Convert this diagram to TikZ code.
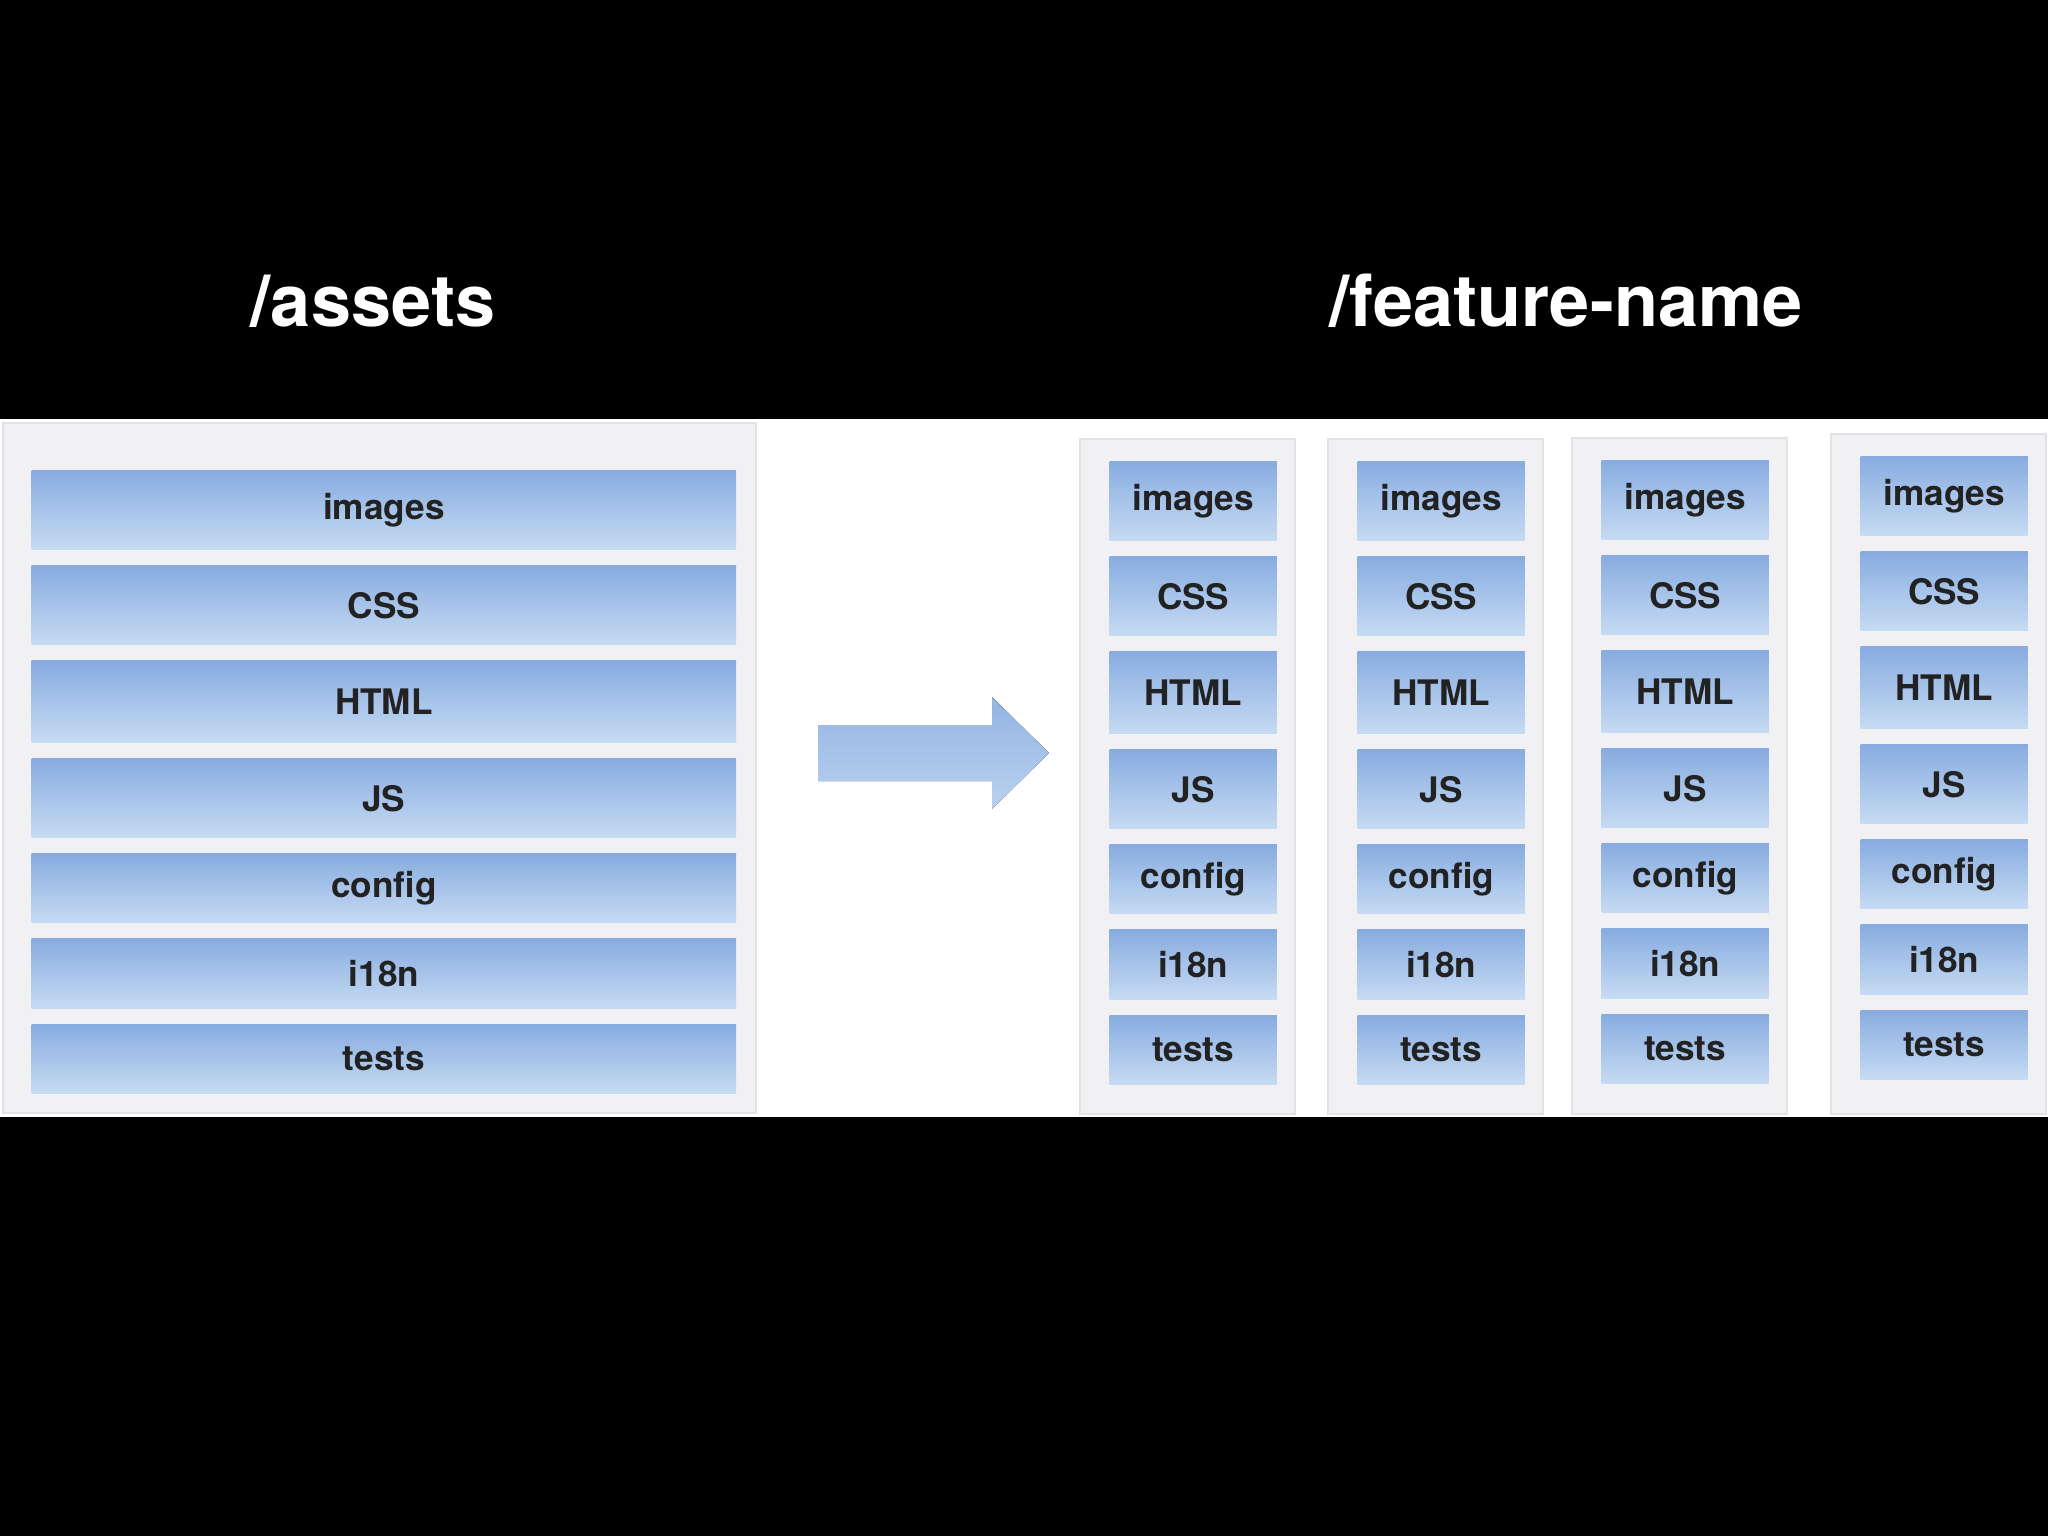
\documentclass[tikz,border=0pt]{standalone}
\usepackage{fontspec}
\setmainfont{TeX Gyre Heros}
\usepackage{tikz}
\usetikzlibrary{matrix}
\definecolor{barTop}{HTML}{88ACE0}
\definecolor{barBottom}{HTML}{C6DBF3}
\definecolor{arrowTop}{HTML}{93B3E3}
\definecolor{arrowBottom}{HTML}{B9D2EF}
\definecolor{panelFill}{HTML}{F1F1F3}
\definecolor{panelLine}{HTML}{E2E2E5}
\definecolor{labelText}{HTML}{222222}
\begin{document}
\begin{tikzpicture}[x=0.01cm, y=-0.01cm,
  bar/.style={top color=barTop, bottom color=barBottom, inner sep=0pt, align=center,
    minimum height=0.79cm, text=labelText, font=\fontsize{10}{12}\selectfont\bfseries},
  panel/.style={fill=panelFill, draw=panelLine, line width=0.3pt},
  title/.style={text=white, anchor=base, font=\fontsize{20.5}{24}\selectfont\bfseries},
  folders/.style={matrix of nodes, matrix anchor=north west, inner sep=0pt, row sep=0.16cm,
    row 3/.style={nodes={minimum height=0.82cm}},
    row 5/.style={nodes={minimum height=0.69cm}},
    row 6/.style={nodes={minimum height=0.69cm}},
    row 7/.style={nodes={minimum height=0.69cm}}}]
\useasboundingbox (0,0) rectangle (2048,1536);
\fill[black] (0,0) rectangle (2048,1536);
\fill[white] (0,419) rectangle (2048,1117);

\node[title] (assets) at (373,326) {/assets};
\node[title] (feature) at (1566,326) {/feature-name};

% one big folder
\draw[panel] (3,423) rectangle (756,1113);
\matrix (A)[folders, nodes={bar, text width=7.04cm}] at (31,470) {
images \\
CSS \\
HTML \\
JS \\
config \\
i18n \\
tests \\
};

\fill[top color=arrowTop, bottom color=arrowBottom]
  (818,725) -- (992,725) -- (992,697) -- (1049,753) -- (992,809) -- (992,781) -- (818,781) -- cycle;

% one folder per feature
\foreach \x/\y/\n in {1109/461/1, 1357/461/2, 1601/460/3, 1860/456/4} {
  \draw[panel] (\x-29,\y-22) rectangle (\x+186,1114);
  \matrix (F\n)[folders, nodes={bar, text width=1.67cm}] at (\x,\y) {
  images \\
  CSS \\
  HTML \\
  JS \\
  config \\
  i18n \\
  tests \\
  };
}
\end{tikzpicture}
\end{document}
